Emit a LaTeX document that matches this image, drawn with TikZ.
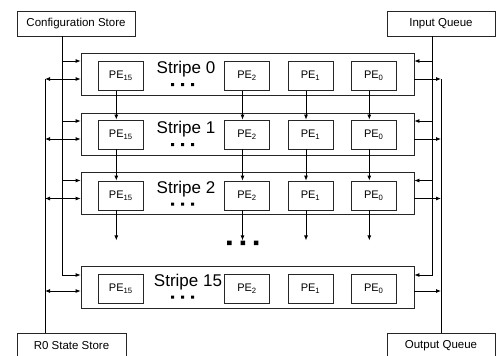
\documentclass[tikz,border=0pt]{standalone}
\usepackage{fontspec}
\setmainfont{Liberation Sans}
\usetikzlibrary{arrows.meta}

\begin{document}
\begin{tikzpicture}[x=1pt, y=-1pt,
  store/.style={draw=black!85, line width=0.8pt, minimum height=25pt, inner sep=0pt, font=\fontsize{11.5}{13}\selectfont},
  stripe/.style={draw=black!85, line width=0.8pt, minimum width=333pt, minimum height=42pt, inner sep=0pt},
  pe/.style={draw=black!85, line width=0.8pt, minimum width=45pt, minimum height=29pt, inner sep=0pt, font=\fontsize{11}{12}\selectfont},
  stripelabel/.style={anchor=base, inner sep=0pt, font=\fontsize{17}{19}\selectfont},
  arr/.style={line width=0.8pt, -{Latex[length=5pt,width=4pt]}},
  dbl/.style={line width=0.8pt, {Latex[length=5pt,width=4pt]}-{Latex[length=5pt,width=4pt]}},
  bus/.style={line width=0.8pt}]

\useasboundingbox (0,0) rectangle (498,356);

% stores and queues
\node[store, minimum width=118pt] (cfg) at (76,23.5) {Configuration Store};
\node[store, minimum width=108pt] (inq) at (441,23.5) {Input Queue};
\node[store, minimum width=109pt] (rzero) at (71.5,345.5) {R0 State Store};
\node[store, minimum width=108pt] (outq) at (441,345.5) {Output Queue};

% stripes
\node[stripe] (s0) at (247.5,74) {};
\node[stripe] (s1) at (247.5,134) {};
\node[stripe] (s2) at (247.5,193.5) {};
\node[stripe] (s15) at (247.5,287) {};

\node[stripelabel] (l0) at (186,73.5) {Stripe 0};
\node[stripelabel] (l1) at (186,133.5) {Stripe 1};
\node[stripelabel] (l2) at (186,193) {Stripe 2};
\node[stripelabel] (l15) at (188,286.5) {Stripe 15};

% processing elements
\node[pe] (pe15s0) at (120.8,76) {PE\textsubscript{15}};
\node[pe] (pe2s0) at (247,76) {PE\textsubscript{2}};
\node[pe] (pe1s0) at (310.5,76) {PE\textsubscript{1}};
\node[pe] (pe0s0) at (373.8,76) {PE\textsubscript{0}};

\node[pe] (pe15s1) at (120.8,134.5) {PE\textsubscript{15}};
\node[pe] (pe2s1) at (247,134.5) {PE\textsubscript{2}};
\node[pe] (pe1s1) at (310.5,134.5) {PE\textsubscript{1}};
\node[pe] (pe0s1) at (373.8,134.5) {PE\textsubscript{0}};

\node[pe] (pe15s2) at (120.8,195.5) {PE\textsubscript{15}};
\node[pe] (pe2s2) at (247,195.5) {PE\textsubscript{2}};
\node[pe] (pe1s2) at (310.5,195.5) {PE\textsubscript{1}};
\node[pe] (pe0s2) at (373.8,195.5) {PE\textsubscript{0}};

\node[pe] (pe15s15) at (120.8,288.5) {PE\textsubscript{15}};
\node[pe] (pe2s15) at (247,288.5) {PE\textsubscript{2}};
\node[pe] (pe1s15) at (310.5,288.5) {PE\textsubscript{1}};
\node[pe] (pe0s15) at (373.8,288.5) {PE\textsubscript{0}};

% dots
\fill (171,83) rectangle ++(3,3) (181,83) rectangle ++(3,3) (191,83) rectangle ++(3,3);
\fill (171,143) rectangle ++(3,3) (181,143) rectangle ++(3,3) (191,143) rectangle ++(3,3);
\fill (171,202.5) rectangle ++(3,3) (181,202.5) rectangle ++(3,3) (191,202.5) rectangle ++(3,3);
\fill (171,295.5) rectangle ++(3,3) (181,295.5) rectangle ++(3,3) (191,295.5) rectangle ++(3,3);
\fill (227,240.5) rectangle ++(4.5,4.5) (240.5,240.5) rectangle ++(4.5,4.5) (253.8,240.5) rectangle ++(4.5,4.5);

% PE to PE
\draw[arr] ([xshift=-4.5pt]pe15s0.south) -- ([xshift=-4.5pt]pe15s1.north);
\draw[arr] ([xshift=-4.5pt]pe2s0.south) -- ([xshift=-4.5pt]pe2s1.north);
\draw[arr] ([xshift=-4.5pt]pe1s0.south) -- ([xshift=-4.5pt]pe1s1.north);
\draw[arr] ([xshift=-4.5pt]pe0s0.south) -- ([xshift=-4.5pt]pe0s1.north);

\draw[arr] ([xshift=-4.5pt]pe15s1.south) -- ([xshift=-4.5pt]pe15s2.north);
\draw[arr] ([xshift=-4.5pt]pe2s1.south) -- ([xshift=-4.5pt]pe2s2.north);
\draw[arr] ([xshift=-4.5pt]pe1s1.south) -- ([xshift=-4.5pt]pe1s2.north);
\draw[arr] ([xshift=-4.5pt]pe0s1.south) -- ([xshift=-4.5pt]pe0s2.north);

\draw[arr] ([xshift=-4.5pt]pe15s2.south) -- ++(0,30);
\draw[arr] ([xshift=-4.5pt]pe2s2.south) -- ++(0,30);
\draw[arr] ([xshift=-4.5pt]pe1s2.south) -- ++(0,30);
\draw[arr] ([xshift=-4.5pt]pe0s2.south) -- ++(0,30);

% left side buses
\coordinate (cfgbus) at ([xshift=-13.3pt]cfg.south);
\coordinate (rbus) at ([xshift=-26.5pt]rzero.north);

\draw[arr] (cfgbus) |- ([yshift=12pt]s15.west);
\draw[arr] ([yshift=13pt]s0.west -| cfgbus) -- ([yshift=13pt]s0.west);
\draw[arr] ([yshift=13pt]s1.west -| cfgbus) -- ([yshift=13pt]s1.west);
\draw[arr] ([yshift=13pt]s2.west -| cfgbus) -- ([yshift=13pt]s2.west);

\draw[bus] (rbus) -- ([yshift=-5pt]s0.west -| rbus);
\draw[dbl] ([yshift=-5pt]s0.west -| rbus) -- ([yshift=-5pt]s0.west);
\draw[dbl] ([yshift=-5pt]s1.west -| rbus) -- ([yshift=-5pt]s1.west);
\draw[dbl] ([yshift=-5pt]s2.west -| rbus) -- ([yshift=-5pt]s2.west);
\draw[dbl] ([yshift=-4pt]s15.west -| rbus) -- ([yshift=-4pt]s15.west);

% right side buses
\coordinate (inbus) at ([xshift=-9pt]inq.south);

\draw[arr] (inbus) |- ([yshift=12pt]s15.east);
\draw[arr] ([yshift=13pt]s0.east -| inbus) -- ([yshift=13pt]s0.east);
\draw[arr] ([yshift=13pt]s1.east -| inbus) -- ([yshift=13pt]s1.east);
\draw[arr] ([yshift=13pt]s2.east -| inbus) -- ([yshift=13pt]s2.east);

\draw[bus] (outq.north) -- ([yshift=-5pt]s0.east -| outq.north);
\draw[arr] ([yshift=-5pt]s0.east) -- ([yshift=-5pt]s0.east -| outq.north);
\draw[arr] ([yshift=-5pt]s1.east) -- ([yshift=-5pt]s1.east -| outq.north);
\draw[arr] ([yshift=-5pt]s2.east) -- ([yshift=-5pt]s2.east -| outq.north);
\draw[arr] ([yshift=-4pt]s15.east) -- ([yshift=-4pt]s15.east -| outq.north);

\end{tikzpicture}
\end{document}
